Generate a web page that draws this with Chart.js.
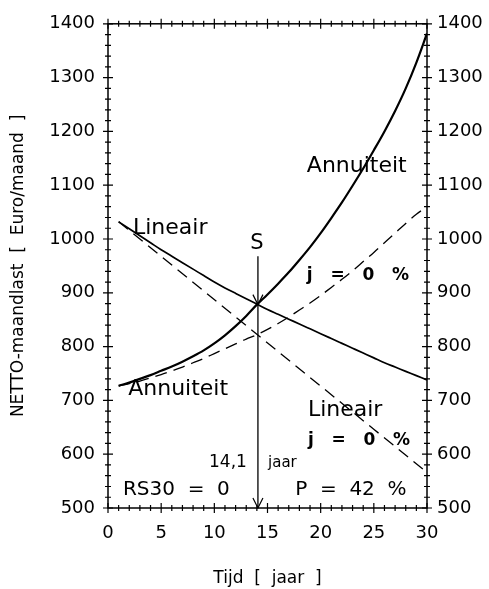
<!DOCTYPE html>
<html>
<head>
<meta charset="utf-8">
<script src="https://cdn.jsdelivr.net/npm/chart.js@4/dist/chart.umd.min.js"></script>
<style>
  body { margin: 0; background: #fff; }
  #wrap { width: 489px; height: 589px; }
</style>
</head>
<body>
<div id="wrap"><canvas id="grafiek"></canvas></div>
<script>
// Jaren en netto-maandlasten
const jaren = [1, 2, 3, 4, 5, 6, 7, 8, 9, 10, 11, 12, 13, 14, 15, 16, 17, 18, 19, 20, 21, 22, 23, 24, 25, 26, 27, 28, 29, 30];
const annuiteitNetto = [727, 733, 740, 747, 755, 763, 772, 782, 793, 806, 821, 838, 857, 878, 897, 917, 938, 961, 985, 1011, 1039, 1068, 1099, 1131, 1165, 1200, 1238, 1280, 1328, 1382];
const annuiteitJ0 = [727, 731, 736, 742, 748, 755, 762, 770, 778, 787, 796, 805, 814, 822, 832, 843, 855, 868, 881, 895, 910, 925, 941, 958, 975, 993, 1011, 1029, 1046, 1060];
const lineairNetto = [1032, 1019, 1006, 993, 980, 968, 956, 944, 932, 920, 909, 899, 889, 879, 869, 860, 851, 842, 833, 824, 815, 806, 797, 788, 779, 770, 762, 754, 746, 738];
const lineairJ0Jaren = [1, 14, 30];
const lineairJ0 = [1032, 823, 566];

// Snijpunt S
const snijpuntJaar = 14.1;
const snijpuntWaarde = 878;
const pijlStart = 968;

// As-labels
const xTickLabels = [0, 5, 10, 15, 20, 25, 30];
const yTickLabels = [500, 600, 700, 800, 900, 1000, 1100, 1200, 1300, 1400];

const FONT = 'DejaVu Sans';

// Teksten in de grafiek (posities in as-eenheden)
const teksten = [
  { t: 'Lineair', x: 2.35, y: 1020, size: 22 },
  { t: 'Annuiteit', x: 18.7, y: 1135, size: 22 },
  { t: 'j   =   0   %', x: 18.7, y: 932, size: 17, bold: true },
  { t: 'Annuiteit', x: 1.9, y: 720, size: 22 },
  { t: 'Lineair', x: 18.8, y: 682, size: 22 },
  { t: 'j   =   0   %', x: 18.8, y: 625, size: 17, bold: true },
  { t: '14,1', x: 9.5, y: 584, size: 17 },
  { t: 'jaar', x: 15.05, y: 584, size: 15 },
  { t: 'RS30  =  0', x: 1.4, y: 533, size: 20 },
  { t: 'P  =  42  %', x: 17.6, y: 533, size: 20 },
  { t: 'S', x: 14.0, y: 992, size: 21, center: true }
];

function punten(xs, ys) {
  return xs.map((x, i) => ({ x: x, y: ys[i] }));
}

// Kader, tickjes, pijlpunten en teksten
const assenPlugin = {
  id: 'assen',
  afterDatasetsDraw(chart) {
    const { ctx, chartArea: { left, right, top, bottom }, scales: { x, y } } = chart;
    ctx.save();
    ctx.strokeStyle = '#000';
    ctx.lineWidth = 1.5;
    ctx.strokeRect(left, top, right - left, bottom - top);

    ctx.lineWidth = 1.2;
    ctx.beginPath();
    for (let j = 0; j <= 30; j++) {
      const px = x.getPixelForValue(j);
      const len = j % 5 === 0 ? 5 : 3;
      ctx.moveTo(px, bottom - len); ctx.lineTo(px, bottom + len);
      ctx.moveTo(px, top - len); ctx.lineTo(px, top + len);
    }
    for (let v = 500; v <= 1400; v += 20) {
      const py = y.getPixelForValue(v);
      const len = v % 100 === 0 ? 5 : 3;
      ctx.moveTo(left - len, py); ctx.lineTo(left + len, py);
      ctx.moveTo(right - len, py); ctx.lineTo(right + len, py);
    }
    ctx.stroke();

    // pijlpunten
    const ax = x.getPixelForValue(snijpuntJaar);
    [snijpuntWaarde, 500].forEach(v => {
      const ay = y.getPixelForValue(v);
      ctx.beginPath();
      ctx.moveTo(ax - 5, ay - 10);
      ctx.lineTo(ax, ay);
      ctx.lineTo(ax + 5, ay - 10);
      ctx.stroke();
    });

    ctx.fillStyle = '#000';
    ctx.textBaseline = 'middle';
    teksten.forEach(item => {
      ctx.font = (item.bold ? 'bold ' : '') + item.size + 'px "' + FONT + '"';
      ctx.textAlign = item.center ? 'center' : 'left';
      ctx.fillText(item.t, x.getPixelForValue(item.x), y.getPixelForValue(item.y));
    });
    ctx.restore();
  }
};

const lijn = (data, dash, width) => ({
  data: data,
  borderColor: '#000',
  borderWidth: width,
  borderDash: dash,
  pointRadius: 0,
  cubicInterpolationMode: 'monotone',
  fill: false
});

const plainTick = v => String(v);

new Chart(document.getElementById('grafiek'), {
  type: 'line',
  data: {
    datasets: [
      lijn(punten(jaren, annuiteitNetto), [], 2.2),
      lijn(punten(jaren, annuiteitJ0), [12, 7], 1.3),
      lijn(punten(jaren, lineairNetto), [], 1.7),
      lijn(punten(lineairJ0Jaren, lineairJ0), [12, 7], 1.3),
      lijn(punten([snijpuntJaar, snijpuntJaar], [pijlStart, 500]), [], 1.3)
    ]
  },
  options: {
    responsive: true,
    maintainAspectRatio: false,
    animation: false,
    layout: { padding: { top: 18, left: 0, right: 0, bottom: 0 } },
    plugins: { legend: { display: false }, tooltip: { enabled: false } },
    scales: {
      x: {
        type: 'linear',
        min: 0, max: 30,
        afterBuildTicks: s => { s.ticks = xTickLabels.map(v => ({ value: v })); },
        afterFit: s => { s.height = 81; },
        grid: { display: false, drawTicks: false },
        border: { display: false },
        ticks: { color: '#000', padding: 15, maxRotation: 0, callback: plainTick, font: { family: FONT, size: 18 } },
        title: {
          display: true,
          text: 'Tijd  [  jaar  ]',
          color: '#000',
          font: { family: FONT, size: 17 },
          padding: { top: 2, bottom: 0 }
        }
      },
      y: {
        position: 'left',
        min: 500, max: 1400,
        afterBuildTicks: s => { s.ticks = yTickLabels.map(v => ({ value: v })); },
        afterFit: s => { s.width = 108; },
        grid: { display: false, drawTicks: false },
        border: { display: false },
        ticks: { color: '#000', padding: 13, callback: plainTick, font: { family: FONT, size: 18 } },
        title: {
          display: true,
          text: 'NETTO-maandlast  [  Euro/maand  ]',
          color: '#000',
          font: { family: FONT, size: 17 },
          padding: { top: 8, bottom: 0 }
        }
      },
      y2: {
        position: 'right',
        min: 500, max: 1400,
        afterBuildTicks: s => { s.ticks = yTickLabels.map(v => ({ value: v })); },
        afterFit: s => { s.width = 62; },
        grid: { display: false, drawTicks: false },
        border: { display: false },
        ticks: { color: '#000', padding: 10, callback: plainTick, font: { family: FONT, size: 18 } }
      }
    }
  },
  plugins: [assenPlugin]
});
</script>
</body>
</html>
